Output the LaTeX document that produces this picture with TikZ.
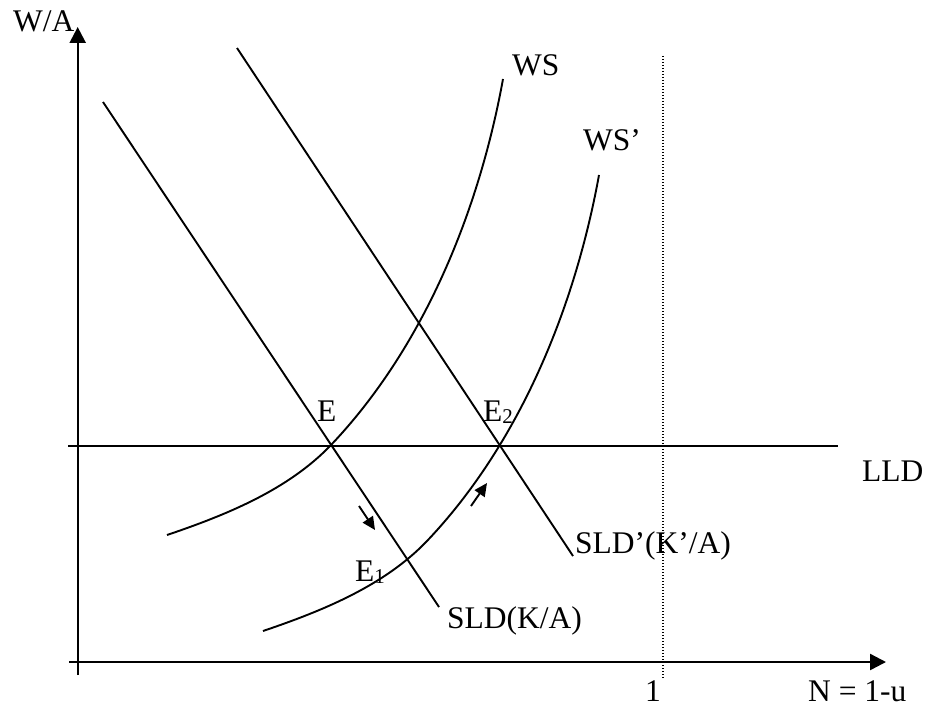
\documentclass[tikz,border=0pt]{standalone}
\usepackage{fontspec}
\setmainfont{Liberation Serif}
\usetikzlibrary{arrows.meta}
\newcommand\lowsub[1]{\raisebox{-2.5pt}{\fontsize{21}{21}\selectfont #1}}
\begin{document}
\begin{tikzpicture}[x=1pt,y=-1pt,
  curve/.style={line width=1.9pt},
  axis/.style={line width=2.4pt,-{Triangle[length=16pt,width=16pt]}},
  lbl/.style={anchor=base west,inner sep=0pt,font=\fontsize{31.5}{36}\selectfont},
  move/.style={line width=1.9pt,-{Triangle[length=13pt,width=12pt]}},
  dotline/.style={line width=1.3pt,dash pattern=on 1.3pt off 1.7pt}]
\useasboundingbox (0,0) rectangle (925,706);
% axes
\coordinate (yb) at (77.7,675);
\coordinate (yt) at (77.7,27);
\coordinate (xl) at (69,662);
\coordinate (xr) at (886,662);
\draw[axis] (yb) -- (yt);
\draw[axis] (xl) -- (xr);
% LLD
\coordinate (lldl) at (68,446);
\coordinate (lldr) at (838,446);
\draw[curve] (lldl) -- (lldr);
% dotted full employment line
\coordinate (dt) at (663,56);
\coordinate (db) at (663,678);
\draw[dotline] (dt) -- (db);
% SLD lines
\coordinate (s1a) at (103,102);
\coordinate (s1b) at (439,607);
\coordinate (s2a) at (237,48);
\coordinate (s2b) at (573,556);
\draw[curve] (s1a) -- (s1b);
\draw[curve] (s2a) -- (s2b);
% WS curves
\coordinate (wsa) at (167,535);
\coordinate (wse) at (331,445);
\coordinate (wsb) at (503,79);
\draw[curve] (wsa) .. controls (226,515) and (288,490) .. (wse)
  .. controls (424,347) and (479,211) .. (wsb);
\begin{scope}[shift={(96,96)}]
\coordinate (wsa2) at (167,535);
\coordinate (wse2) at (331,445);
\coordinate (wsb2) at (503,79);
\draw[curve] (wsa2) .. controls (226,515) and (288,490) .. (wse2)
  .. controls (424,347) and (479,211) .. (wsb2);
\end{scope}
% movement arrows
\coordinate (m1a) at (359,506);
\coordinate (m1b) at (375,530);
\coordinate (m2a) at (471,506);
\coordinate (m2b) at (487,483);
\draw[move] (m1a) -- (m1b);
\draw[move] (m2a) -- (m2b);
% labels
\node[lbl] (wa) at (13,32) {W/A};
\node[lbl] (ws) at (512,76) {WS};
\node[lbl] (ws2) at (583,150) {WS’};
\node[lbl] (e) at (317,421) {E};
\node[lbl] (e2) at (483,421) {E\lowsub{2}};
\node[lbl] (e1) at (355,581) {E\lowsub{1}};
\node[lbl] (sld) at (447,628) {SLD(K/A)};
\node[lbl] (sld2) at (575,553) {SLD’(K’/A)};
\node[lbl] (lld) at (862,481) {LLD};
\node[lbl] (one) at (645,701) {1};
\node[lbl] (n) at (808,701) {N = 1-u};
\end{tikzpicture}
\end{document}
